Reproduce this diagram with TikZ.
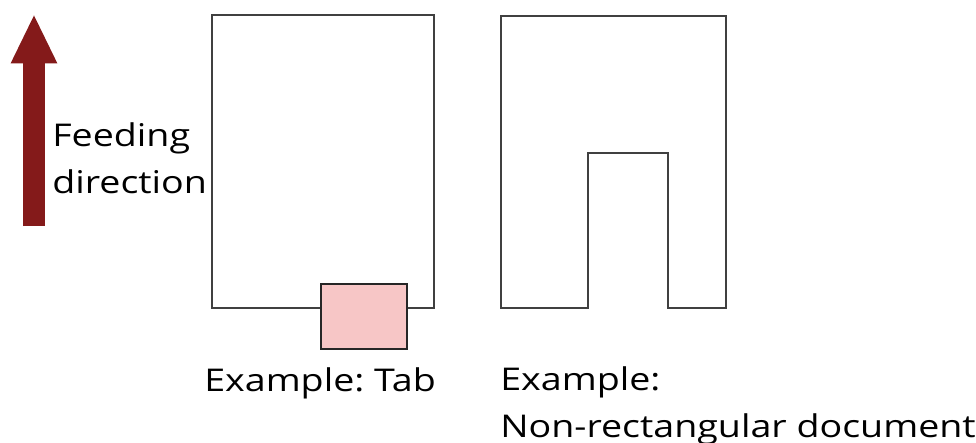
\documentclass[tikz,border=0pt]{standalone}
\usepackage{fontspec}
\setmainfont{Open Sans}[FakeStretch=1.2]
\frenchspacing
\usetikzlibrary{arrows.meta,positioning}

\begin{document}
\begin{tikzpicture}[
  x=0.75pt, y=-0.75pt,
  font=\fontsize{23.5}{35}\selectfont,
  outline/.style={draw=black!75, line width=1.6pt},
  tabbox/.style={draw=black!85, line width=1.6pt, fill=tabpink},
  label/.style={inner sep=0pt, anchor=base west, align=left},
  feed/.style={-{Triangle[width=32pt, length=37pt]}, line width=16pt, draw=feedred}
]
  \definecolor{feedred}{RGB}{132,26,26}
  \definecolor{tabpink}{RGB}{247,198,198}
  \useasboundingbox (0,0) rectangle (976,443);

  % feeding direction
  \coordinate (feedtail) at (34,226);
  \coordinate (feedtip) at (34,14);
  \draw[feed] (feedtail) -- (feedtip);
  \node[label] (feedlabel) at (52,193) {Feeding\\direction};

  % example with tab
  \draw[outline] (212,15) rectangle (434,308);
  \draw[tabbox] (321,284) rectangle (407,349);
  \node[label] (tablabel) at (204,391) {Example: Tab};

  % non-rectangular document
  \draw[outline] (501,16) -- (726,16) -- (726,308) -- (668,308) -- (668,153)
    -- (588,153) -- (588,308) -- (501,308) -- cycle;
  \node[label] (shapelabel) at (500,437) {Example:\\Non-rectangular document};
\end{tikzpicture}
\end{document}
